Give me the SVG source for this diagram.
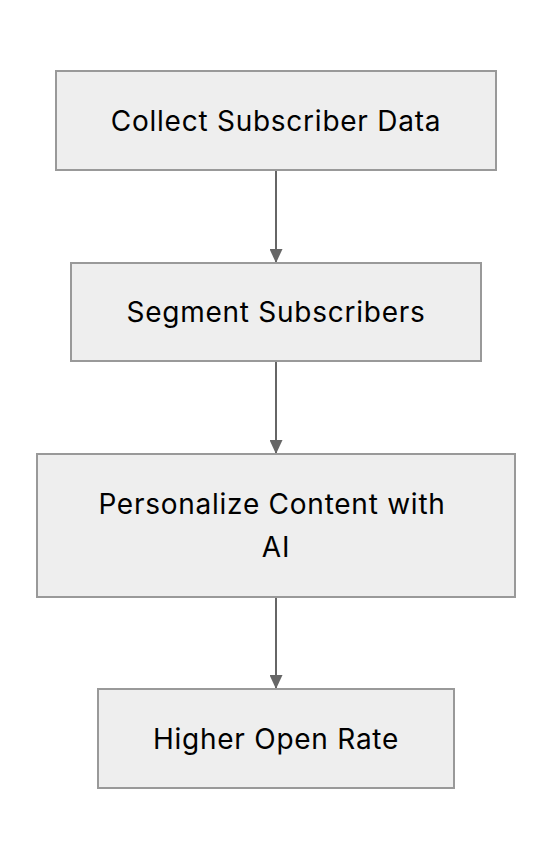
<svg xmlns="http://www.w3.org/2000/svg" width="552" height="860" viewBox="0 0 552 860">
<style>
.box{fill:#eeeeee;stroke:#999999;stroke-width:2}
.lbl{font-family:Inter,"Noto Sans",sans-serif;font-size:28px;letter-spacing:0.75px;fill:#000000;text-anchor:middle}
.edge{stroke:#666666;stroke-width:2;fill:none}
</style>
<defs>
<marker id="arr" markerWidth="14" markerHeight="13" refX="14" refY="6.5" orient="auto" markerUnits="userSpaceOnUse">
<path d="M0,0 L14,6.5 L0,13 Z" fill="#666666"/>
</marker>
</defs>
<rect width="552" height="860" fill="#ffffff"/>
<g id="edges">
<line class="edge" x1="276" y1="170" x2="276" y2="263" marker-end="url(#arr)"/>
<line class="edge" x1="276" y1="361" x2="276" y2="454" marker-end="url(#arr)"/>
<line class="edge" x1="276" y1="597" x2="276" y2="689" marker-end="url(#arr)"/>
</g>
<g id="n1">
<rect class="box" x="56" y="71" width="440" height="99"/>
<text class="lbl" x="276" y="131">Collect Subscriber Data</text>
</g>
<g id="n2">
<rect class="box" x="71" y="263" width="410" height="98"/>
<text class="lbl" x="276" y="322">Segment Subscribers</text>
</g>
<g id="n3">
<rect class="box" x="37" y="454" width="478" height="143"/>
<text class="lbl" x="272" y="514">Personalize Content with</text>
<text class="lbl" x="276" y="557">AI</text>
</g>
<g id="n4">
<rect class="box" x="98" y="689" width="356" height="99"/>
<text class="lbl" x="276" y="749">Higher Open Rate</text>
</g>
</svg>
